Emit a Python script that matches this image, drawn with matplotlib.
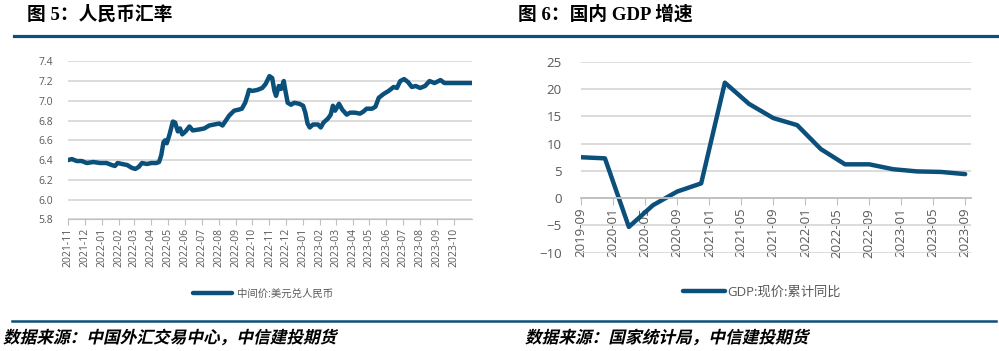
import matplotlib
matplotlib.use('Agg')
import matplotlib.pyplot as plt
import numpy as np
import pandas as pd
from matplotlib.lines import Line2D
from matplotlib.patheffects import AbstractPathEffect
from matplotlib.transforms import Affine2D

BLUE = '#0b4f7b'
GRID = '#d9d9d9'
AXC = '#bfbfbf'
TXT = '#595959'
SANS = ['Open Sans', 'Noto Sans CJK SC', 'DejaVu Sans']
TITLE_FONT = ['Liberation Serif', 'Noto Sans CJK SC', 'DejaVu Sans']
CJK = ['Noto Sans CJK SC', 'DejaVu Sans']

# 中间价:美元兑人民币
fx_dates = ['2021-11-01', '2021-11-08', '2021-11-17', '2021-11-26', '2021-12-05',
            '2021-12-17', '2021-12-29', '2022-01-10', '2022-01-19', '2022-01-25',
            '2022-01-30', '2022-02-07', '2022-02-16', '2022-02-25', '2022-03-03',
            '2022-03-09', '2022-03-15', '2022-03-24', '2022-04-01', '2022-04-10',
            '2022-04-15', '2022-04-19', '2022-04-23', '2022-04-26', '2022-04-29',
            '2022-05-04', '2022-05-10', '2022-05-14', '2022-05-19', '2022-05-23',
            '2022-05-27', '2022-06-02', '2022-06-09', '2022-06-15', '2022-06-27',
            '2022-07-06', '2022-07-15', '2022-07-24', '2022-08-02', '2022-08-08',
            '2022-08-14', '2022-08-20', '2022-08-29', '2022-09-06', '2022-09-12',
            '2022-09-18', '2022-09-22', '2022-09-25', '2022-10-01', '2022-10-10',
            '2022-10-19', '2022-10-25', '2022-11-01', '2022-11-06', '2022-11-10',
            '2022-11-13', '2022-11-18', '2022-11-22', '2022-11-27', '2022-11-30',
            '2022-12-04', '2022-12-10', '2022-12-16', '2022-12-25', '2023-01-01',
            '2023-01-05', '2023-01-09', '2023-01-13', '2023-01-19', '2023-01-28',
            '2023-02-02', '2023-02-07', '2023-02-15', '2023-02-20', '2023-02-24',
            '2023-02-28', '2023-03-07', '2023-03-13', '2023-03-21', '2023-03-27',
            '2023-04-05', '2023-04-14', '2023-04-20', '2023-04-26', '2023-05-06',
            '2023-05-12', '2023-05-18', '2023-05-27', '2023-06-05', '2023-06-14',
            '2023-06-20', '2023-06-26', '2023-07-03', '2023-07-10', '2023-07-17',
            '2023-07-24', '2023-08-01', '2023-08-10', '2023-08-18', '2023-08-27',
            '2023-09-07', '2023-09-14', '2023-09-26', '2023-10-15', '2023-11-03']
fx_values = [6.40, 6.41, 6.39, 6.39, 6.37,
             6.38, 6.37, 6.37, 6.35, 6.34,
             6.37, 6.36, 6.35, 6.32, 6.31,
             6.33, 6.37, 6.36, 6.37, 6.37,
             6.38, 6.45, 6.58, 6.60, 6.57,
             6.66, 6.79, 6.78, 6.69, 6.72,
             6.66, 6.69, 6.74, 6.70, 6.71,
             6.72, 6.75, 6.76, 6.77, 6.75,
             6.80, 6.85, 6.90, 6.91, 6.92,
             6.98, 7.05, 7.11, 7.10, 7.11,
             7.13, 7.17, 7.25, 7.23, 7.10,
             7.05, 7.15, 7.12, 7.20, 7.10,
             6.98, 6.96, 6.98, 6.97, 6.95,
             6.88, 6.77, 6.73, 6.76, 6.76,
             6.73, 6.78, 6.82, 6.86, 6.95,
             6.90, 6.97, 6.91, 6.86, 6.88,
             6.88, 6.87, 6.89, 6.92, 6.92,
             6.94, 7.03, 7.07, 7.10, 7.14,
             7.13, 7.20, 7.22, 7.19, 7.14,
             7.15, 7.13, 7.15, 7.20, 7.18,
             7.21, 7.18, 7.18, 7.18, 7.18]

# GDP:现价:累计同比
gdp_quarters = ['2019-09', '2019-12', '2020-03', '2020-06', '2020-09', '2020-12',
                '2021-03', '2021-06', '2021-09', '2021-12', '2022-03', '2022-06',
                '2022-09', '2022-12', '2023-03', '2023-06', '2023-09']
gdp_values = [7.5, 7.3, -5.3, -1.3, 1.2, 2.7,
              21.2, 17.3, 14.7, 13.4, 9.0, 6.2,
              6.2, 5.3, 4.9, 4.8, 4.4]

fx_ticks = pd.date_range('2021-11-01', '2023-10-01', freq='MS')
gdp_ticks = pd.date_range('2019-09-01', '2023-09-01', freq='4MS')


class Slant(AbstractPathEffect):
    """fake italic: shear the glyph paths around the text origin"""
    def __init__(self, deg=13):
        super().__init__()
        self.deg = deg

    def draw_path(self, renderer, gc, tpath, affine, rgbFace=None):
        m = affine.get_matrix()
        x0, y0 = m[0, 2], m[1, 2]
        sk = Affine2D().translate(-x0, -y0).skew_deg(self.deg, 0).translate(x0, y0)
        renderer.draw_path(gc, tpath, affine + sk, rgbFace)


W, H = 999, 351
fig = plt.figure(figsize=(W / 100, H / 100), dpi=100)


def px(x, y):
    return x / W, 1 - y / H


# ---- left: 人民币汇率 ----
ax1 = fig.add_axes([68 / W, 1 - 219.3 / H, 404 / W, 158 / H])
for s in ['top', 'right', 'left']:
    ax1.spines[s].set_visible(False)
ax1.spines['bottom'].set_color(AXC)
ax1.plot(pd.to_datetime(fx_dates), fx_values, color=BLUE, lw=3.2,
         solid_joinstyle='round', solid_capstyle='round', label='中间价:美元兑人民币')
ax1.set_ylim(5.8, 7.4)
ax1.set_yticks(np.round(np.arange(5.8, 7.41, 0.2), 1))
ax1.set_yticklabels([f'{v:.1f}' for v in np.arange(5.8, 7.41, 0.2)])
ax1.set_xlim(pd.Timestamp('2021-11-01'), pd.Timestamp('2023-11-03'))
ax1.set_xticks(fx_ticks)
ax1.set_xticklabels([d.strftime('%Y-%m') for d in fx_ticks])
ax1.grid(axis='y', color=GRID, lw=1.3)
ax1.set_axisbelow(True)
ax1.tick_params(axis='y', length=0, pad=11, labelsize=7.5, labelcolor=TXT)
ax1.tick_params(axis='x', length=4, color=AXC, pad=2, labelsize=7.5, labelcolor=TXT,
                labelrotation=90)
for t in ax1.get_xticklabels() + ax1.get_yticklabels():
    t.set_family(SANS)
ax1.legend(loc='center', bbox_to_anchor=px(263, 294), bbox_transform=fig.transFigure,
           frameon=False, handlelength=3.8, handletextpad=0.5,
           prop={'family': SANS, 'size': 7.5}, labelcolor=TXT)

# ---- right: 国内 GDP 增速 ----
ax2 = fig.add_axes([581 / W, 1 - 252.5 / H, 390 / W, 190.5 / H])
for s in ['top', 'right', 'left']:
    ax2.spines[s].set_visible(False)
ax2.spines['bottom'].set_position(('data', 0))
ax2.spines['bottom'].set_color(AXC)
ax2.spines['bottom'].set_linewidth(1.3)
ax2.plot(pd.to_datetime(gdp_quarters), gdp_values, color=BLUE, lw=3.2,
         solid_joinstyle='round', solid_capstyle='round', label='GDP:现价:累计同比')
ax2.set_ylim(-10, 25)
ax2.set_yticks(range(-10, 26, 5))
ax2.set_xlim(pd.Timestamp('2019-09-01'), pd.Timestamp('2023-09-23'))
ax2.set_xticks(gdp_ticks)
ax2.set_xticklabels([d.strftime('%Y-%m') for d in gdp_ticks])
ax2.grid(axis='y', color=GRID, lw=1.3)
ax2.set_axisbelow(True)
ax2.tick_params(axis='y', length=0, pad=14, labelsize=9.5, labelcolor=TXT)
ax2.tick_params(axis='x', length=5, color=AXC, pad=2, labelsize=9.5, labelcolor=TXT,
                labelrotation=90)
for t in ax2.get_xticklabels() + ax2.get_yticklabels():
    t.set_family(SANS)
ax2.legend(loc='center', bbox_to_anchor=px(762, 292), bbox_transform=fig.transFigure,
           frameon=False, handlelength=3.2, handletextpad=0.2,
           prop={'family': SANS, 'size': 9.5}, labelcolor=TXT)

# ---- titles, rules, sources ----
fig.text(*px(27, 14), '图 5：人民币汇率', fontsize=13.5, fontweight='bold',
         family=TITLE_FONT, va='center', ha='left')
fig.text(*px(518, 14), '图 6：国内 GDP 增速', fontsize=13.5, fontweight='bold',
         family=TITLE_FONT, va='center', ha='left')
fig.add_artist(Line2D([14 / W, 998 / W], [1 - 36 / H] * 2, color=BLUE, lw=2.3))
fig.add_artist(Line2D([12 / W, 996 / W], [1 - 321 / H] * 2, color=BLUE, lw=1.8))
fig.text(*px(3, 338), '数据来源：中国外汇交易中心，中信建投期货', fontsize=12,
         fontweight='bold', family=CJK, va='center', ha='left', path_effects=[Slant()])
fig.text(*px(525, 338), '数据来源：国家统计局，中信建投期货', fontsize=12,
         fontweight='bold', family=CJK, va='center', ha='left', path_effects=[Slant()])

fig.savefig('out.png', dpi=100)
